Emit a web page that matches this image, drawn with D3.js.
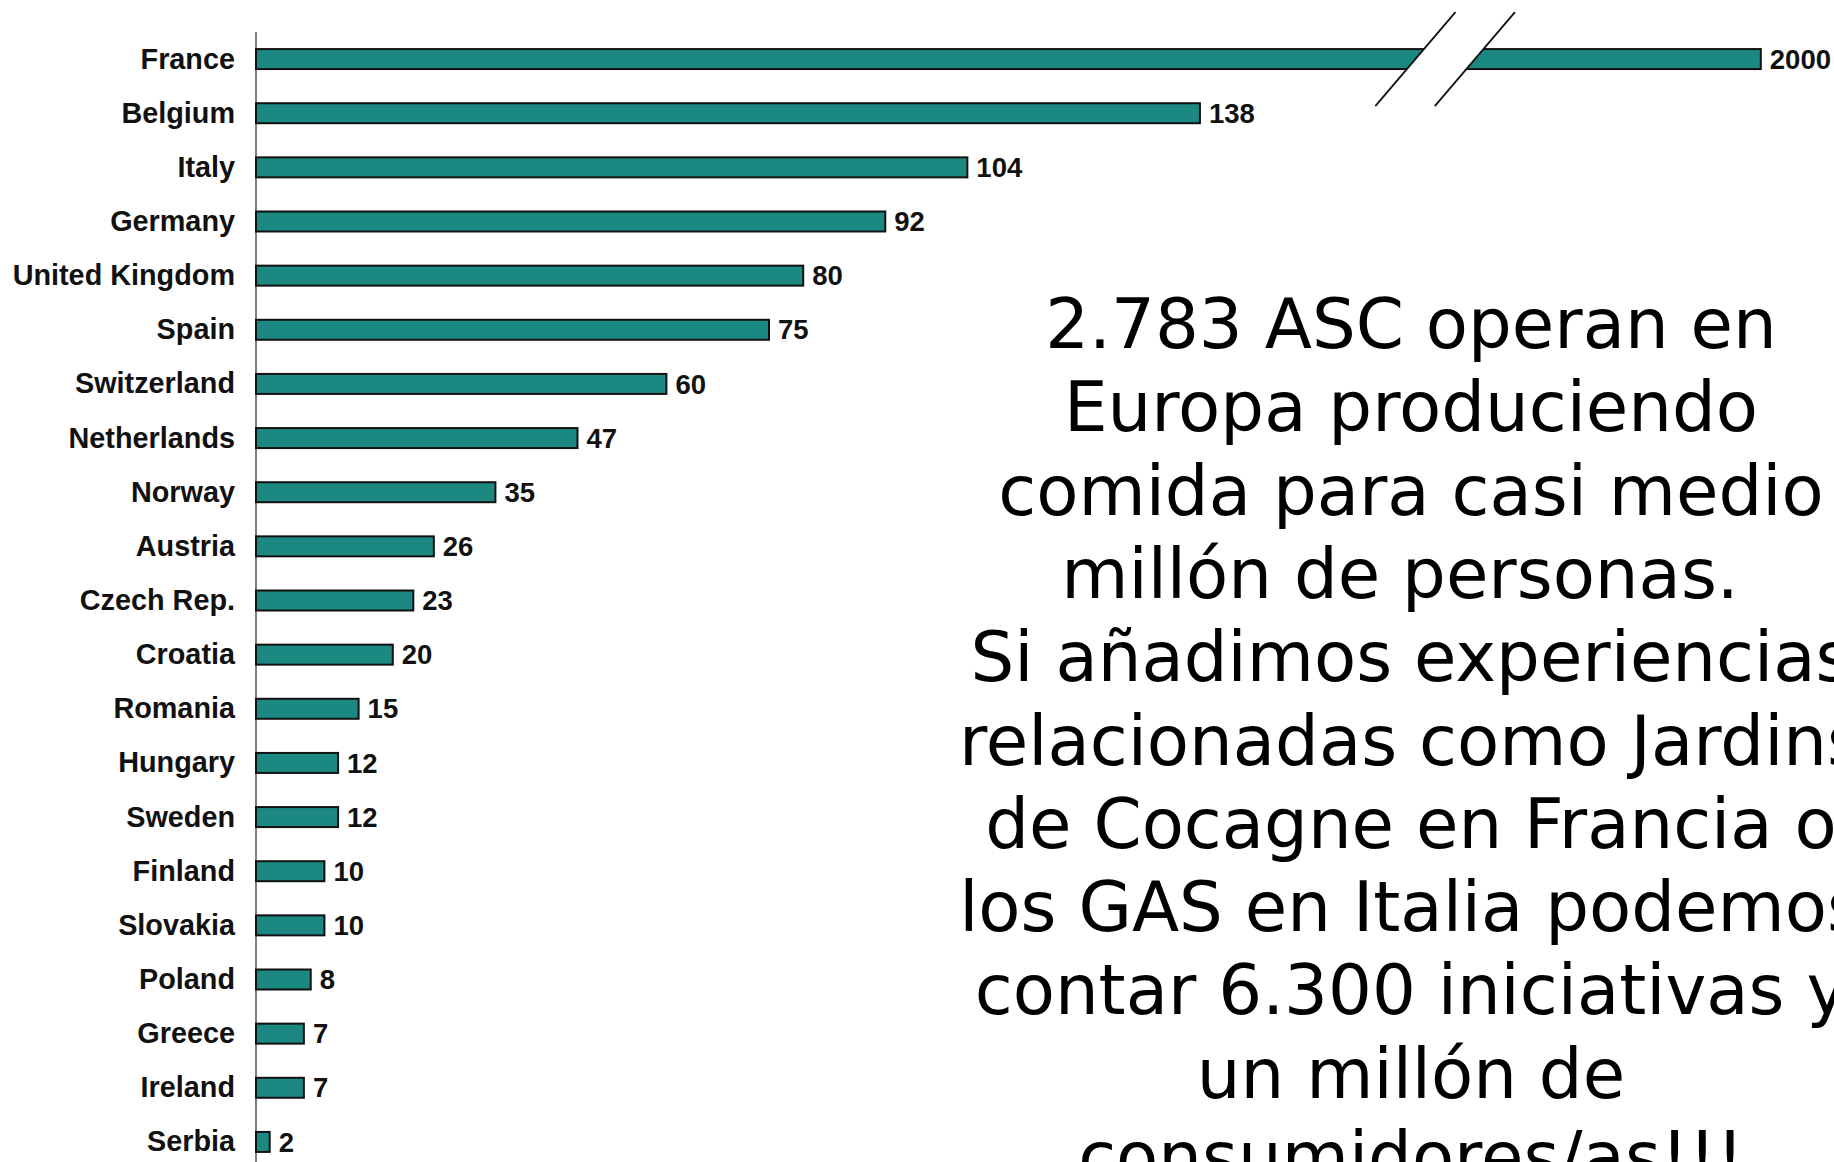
<!DOCTYPE html>
<html>
<head>
<meta charset="utf-8">
<script src="https://cdn.jsdelivr.net/npm/d3@7"></script>
<style>
  html, body { margin: 0; padding: 0; background: #fff; overflow: hidden; }
  .label { font-family: 'Liberation Sans', Arial, sans-serif; font-weight: bold; fill: #111; }
  .note { font-family: 'DejaVu Sans', sans-serif; fill: #000; white-space: pre; }
</style>
</head>
<body>
<div id="chart-container"></div>
<script>
var countries = ['France', 'Belgium', 'Italy', 'Germany', 'United Kingdom', 'Spain', 'Switzerland',
  'Netherlands', 'Norway', 'Austria', 'Czech Rep.', 'Croatia', 'Romania', 'Hungary', 'Sweden',
  'Finland', 'Slovakia', 'Poland', 'Greece', 'Ireland', 'Serbia'];
var values = [2000, 138, 104, 92, 80, 75, 60, 47, 35, 26, 23, 20, 15, 12, 12, 10, 10, 8, 7, 7, 2];

// axis break: the scale is linear up to breakStart, then squeezed so 2000 fits
var breakStart = 180;
var breakShown = 220;
var breakMarks = [169.5, 178.2];

var noteLines = [
  '2.783 ASC operan en',
  'Europa produciendo',
  'comida para casi medio',
  'millón de personas. ',
  'Si añadimos experiencias',
  'relacionadas como Jardins',
  'de Cocagne en Francia o',
  'los GAS en Italia podemos',
  'contar 6.300 iniciativas y',
  'un millón de',
  'consumidores/as!!!'
];

var chart = {};

chart.render = function() {

  var svgWidth = 1834,
      svgHeight = 1162,
      svg = d3.select('#chart-container').append('svg').attr('width', svgWidth).attr('height', svgHeight),
      x0 = 256,
      k = 6.84;

  var data = countries.map(function(c, i) { return { name: c, value: values[i] }; });

  var x = d3.scaleLinear()
    .domain([0, breakStart, 2000])
    .range([x0, x0 + breakStart * k, x0 + breakShown * k]);

  var y = d3.scaleBand()
    .domain(countries)
    .range([32, 1169])
    .paddingInner(0.594)
    .paddingOuter(0.297);

  // axis line
  svg.append('line')
    .attr('x1', x0).attr('x2', x0)
    .attr('y1', 32).attr('y2', svgHeight)
    .attr('stroke', '#555')
    .attr('stroke-width', 1.5);

  svg.selectAll('rect.bar')
    .data(data)
    .enter().append('rect')
    .attr('class', 'bar')
    .attr('x', x(0))
    .attr('y', function(d) { return y(d.name) + 1; })
    .attr('width', function(d) { return x(d.value) - x(0); })
    .attr('height', y.bandwidth() - 2)
    .attr('fill', '#1b8981')
    .attr('stroke', '#111')
    .attr('stroke-width', 2);

  svg.selectAll('text.cat')
    .data(data)
    .enter().append('text')
    .attr('class', 'label cat')
    .attr('x', 235)
    .attr('y', function(d) { return y(d.name) + y.bandwidth() / 2; })
    .attr('dy', '0.33em')
    .style('font-size', '28.8px')
    .style('text-anchor', 'end')
    .text(function(d) { return d.name; });

  svg.selectAll('text.val')
    .data(data)
    .enter().append('text')
    .attr('class', 'label val')
    .attr('x', function(d) { return x(d.value) + 9; })
    .attr('y', function(d) { return y(d.name) + y.bandwidth() / 2; })
    .attr('dy', '0.35em')
    .style('font-size', '27.5px')
    .text(function(d) { return d.value; });

  // break marks on the France bar
  var cy = y('France') + y.bandwidth() / 2,
      slope = 81 / 95,
      half = 47,
      bx1 = x(breakMarks[0]),
      bx2 = x(breakMarks[1]),
      hh = y.bandwidth() / 2 + 2;

  svg.append('polygon')
    .attr('points', [
      [bx1 + hh * slope, cy - hh], [bx2 + hh * slope, cy - hh],
      [bx2 - hh * slope, cy + hh], [bx1 - hh * slope, cy + hh]
    ].join(' '))
    .attr('fill', '#fff');

  svg.selectAll('line.brk')
    .data([bx1, bx2])
    .enter().append('line')
    .attr('class', 'brk')
    .attr('x1', function(d) { return d - half * slope; })
    .attr('y1', cy + half)
    .attr('x2', function(d) { return d + half * slope; })
    .attr('y2', cy - half)
    .attr('stroke', '#111')
    .attr('stroke-width', 1.8);

  // note text on the right
  svg.append('g').selectAll('text')
    .data(noteLines)
    .enter().append('text')
    .attr('class', 'note')
    .attr('x', 1411)
    .attr('y', function(d, i) { return 348 + i * 83.3; })
    .style('font-size', '69px')
    .style('text-anchor', 'middle')
    .text(function(d) { return d; });

};

chart.render();
</script>
</body>
</html>
